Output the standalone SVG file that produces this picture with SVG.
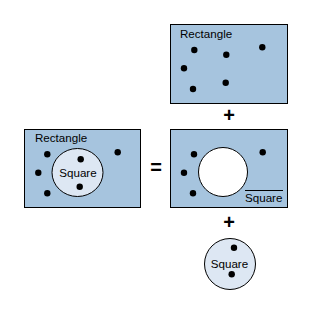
<svg xmlns="http://www.w3.org/2000/svg" width="312" height="310" viewBox="0 0 312 310">
<style>
.box{fill:#a6c4de;stroke:#000;stroke-width:1}
.inner{fill:#dde7f3;stroke:#000;stroke-width:1}
.hole{fill:#fff;stroke:#000;stroke-width:1}
.dot{fill:#000}
.lbl{font-family:"Liberation Sans",Arial,sans-serif;font-size:11.6px;fill:#000}
.op{font-family:"Liberation Sans",Arial,sans-serif;font-size:20px;font-weight:bold;fill:#000;text-anchor:middle}
</style>
<rect width="312" height="310" fill="#fff"/>
<g id="rect-top">
<rect class="box" x="170.5" y="24.5" width="117" height="79"/>
<text class="lbl" x="180" y="38">Rectangle</text>
<circle class="dot" cx="194.3" cy="50" r="3.2"/>
<circle class="dot" cx="226.3" cy="54.7" r="3.2"/>
<circle class="dot" cx="262.3" cy="47.3" r="3.2"/>
<circle class="dot" cx="184" cy="68.3" r="3.2"/>
<circle class="dot" cx="225.7" cy="82.7" r="3.2"/>
<circle class="dot" cx="193" cy="89" r="3.2"/>
</g>
<g id="rect-left">
<rect class="box" x="24.5" y="129.5" width="116" height="78"/>
<text class="lbl" x="35" y="142">Rectangle</text>
<circle class="dot" cx="47.3" cy="154.3" r="3.2"/>
<circle class="dot" cx="117.7" cy="152.3" r="3.2"/>
<circle class="dot" cx="38.3" cy="172.7" r="3.2"/>
<circle class="dot" cx="47.3" cy="193.3" r="3.2"/>
</g>
<g id="square-left">
<ellipse class="inner" cx="77.5" cy="172.5" rx="25.5" ry="24"/>
<text class="lbl" x="78" y="177" text-anchor="middle">Square</text>
<circle class="dot" cx="80.7" cy="159.3" r="3.2"/>
<circle class="dot" cx="79.7" cy="186.7" r="3.2"/>
</g>
<g id="rect-mid">
<rect class="box" x="170.5" y="129.5" width="117" height="78"/>
<circle class="hole" cx="223" cy="172" r="24.5"/>
<circle class="dot" cx="194" cy="154.3" r="3.2"/>
<circle class="dot" cx="262.7" cy="152.3" r="3.2"/>
<circle class="dot" cx="184" cy="172.7" r="3.2"/>
<circle class="dot" cx="193" cy="193.3" r="3.2"/>
<text class="lbl" x="245" y="202">Square</text>
<line x1="245" y1="190.5" x2="283" y2="190.5" stroke="#000" stroke-width="1"/>
</g>
<g id="square-bottom">
<circle class="inner" cx="230" cy="264" r="25.5"/>
<text class="lbl" x="229.5" y="268" text-anchor="middle">Square</text>
<circle class="dot" cx="234" cy="247.7" r="3.2"/>
<circle class="dot" cx="231.7" cy="274.3" r="3.2"/>
</g>
<g id="connectors">
<text class="op" x="229" y="122">+</text>
<text class="op" x="156" y="174">=</text>
<text class="op" x="229" y="229">+</text>
</g>
</svg>
